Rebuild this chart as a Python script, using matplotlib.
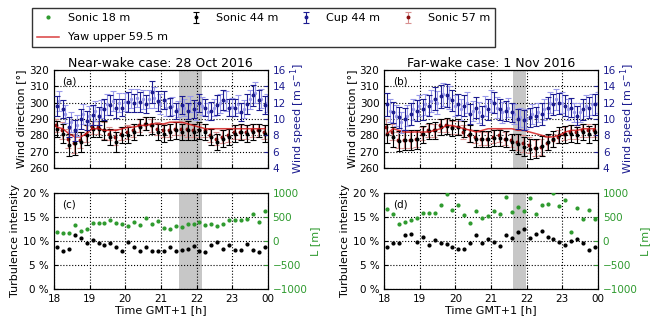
import numpy as np
import matplotlib
matplotlib.use('Agg')
import matplotlib.pyplot as plt

# ---- data (10-min means, minutes after 18:00) ----
t_min = np.arange(5, 360, 10)
t_hours = 18 + t_min / 60.0

# near-wake case, 28 Oct 2016
dir44_a = [284, 281, 274, 275, 276, 280, 284, 284, 283, 279, 276, 280, 280, 282, 285, 287, 286, 282,
           281, 282, 283, 282, 283, 282, 283, 282, 279, 276, 278, 279, 281, 282, 281, 282, 283, 281]
dir44_err_a = [5, 6, 7, 7, 6, 6, 5, 5, 6, 5, 6, 5, 5, 5, 5, 4, 5, 5,
               5, 5, 5, 5, 6, 5, 5, 5, 5, 5, 5, 5, 5, 5, 5, 5, 4, 5]
dir57_a = [286, 283, 278, 275, 277, 281, 285, 285, 283, 281, 279, 281, 282, 283, 286, 287, 286, 284,
           283, 283, 284, 284, 284, 283, 283, 283, 280, 278, 279, 280, 282, 282, 282, 283, 283, 282]
dir57_err_a = [4, 5, 6, 6, 5, 5, 4, 4, 5, 4, 5, 4, 4, 4, 4, 4, 4, 4,
               4, 4, 4, 4, 5, 4, 4, 4, 4, 4, 4, 4, 4, 4, 4, 4, 4, 4]
yaw_a = [285, 284, 281, 279, 279, 281, 284, 284, 283, 283, 283, 284, 285, 285, 286, 286, 287, 287,
         287, 288, 288, 288, 287, 286, 285, 284, 284, 284, 284, 284, 284, 284, 284, 284, 284, 284]
spd_cup_a = [11.6, 11.2, 9.0, 8.6, 10.0, 9.8, 10.5, 10.4, 11.2, 11.7, 11.3, 11.4, 12.1, 12.0, 12.1, 11.8, 13.3, 12.2,
             12.3, 11.5, 11.0, 11.7, 11.0, 11.2, 12.0, 11.4, 11.0, 11.7, 12.3, 11.4, 11.4, 10.8, 11.8, 12.9, 12.3, 11.7]
spd_cup_err_a = [1.2, 1.1, 1.2, 1.3, 1.2, 1.2, 1.2, 1.1, 1.3, 1.2, 1.2, 1.1, 1.2, 1.1, 1.2, 1.1, 1.3, 1.2,
                 1.1, 1.1, 1.0, 1.1, 1.0, 1.1, 1.1, 1.0, 1.1, 1.2, 1.2, 1.1, 1.1, 1.1, 1.2, 1.3, 1.2, 1.1]
spd_son_a = [12.2, 10.6, 9.6, 9.2, 10.6, 10.4, 11.0, 11.2, 11.8, 12.2, 12.0, 12.1, 12.5, 12.6, 12.4, 12.5, 12.6, 11.8,
             11.4, 11.6, 11.2, 11.4, 11.8, 11.0, 11.6, 10.9, 11.4, 11.9, 12.2, 11.5, 11.8, 11.2, 12.4, 13.2, 12.5, 12.0]
ti_a = [8.7, 8.0, 8.4, 11.2, 10.7, 9.5, 10.2, 9.6, 9.1, 9.6, 8.7, 8.0, 9.8, 8.7, 7.9, 8.7, 8.0, 8.0,
        7.9, 8.7, 7.8, 8.1, 8.4, 8.9, 7.9, 7.6, 9.1, 9.8, 8.4, 9.1, 8.1, 8.1, 9.3, 8.2, 7.6, 8.7]
L_a = [190, 170, 155, 330, 210, 240, 375, 375, 375, 445, 375, 360, 305, 395, 330, 485, 360, 415,
       260, 240, 305, 280, 350, 350, 395, 330, 360, 305, 350, 430, 445, 445, 465, 555, 395, 625]
shade_a = (21.5, 22.15)

# far-wake case, 1 Nov 2016
dir44_b = [281, 279, 276.5, 277, 277, 277.5, 280.5, 282.5, 283, 285, 285.5, 284.5, 285, 284, 281, 278, 277.5, 277.5,
           278.5, 278.5, 277.5, 276, 274.5, 273, 271.5, 272, 273.5, 276, 277.5, 280, 280.5, 281, 280, 282, 280.5, 282]
dir44_err_b = [6, 6, 6, 6, 6, 6, 5, 5, 5, 5, 5, 5, 5, 5, 5, 5, 5, 5,
               5, 5, 5, 5, 6, 6, 6, 6, 6, 5, 5, 5, 5, 5, 5, 5, 5, 5]
dir57_b = [285, 282, 277, 277, 277, 278, 281, 283, 283, 286, 286, 285, 285, 282, 280, 279, 278, 278,
           279, 280, 278, 277, 276, 275, 274, 272, 273, 275, 277, 279, 281, 282, 282, 283, 283, 283]
dir57_err_b = [5, 5, 5, 5, 5, 5, 4, 4, 4, 4, 4, 4, 4, 4, 4, 4, 4, 4,
               4, 4, 4, 4, 5, 5, 5, 5, 5, 4, 4, 4, 4, 4, 4, 4, 4, 4]
yaw_b = [281, 284, 283, 282, 282, 282, 282, 282, 283, 284, 286, 286, 285, 284, 283, 282, 283, 284,
         284, 284, 284, 284, 283, 283, 282, 281, 280, 279, 279, 280, 282, 283, 283, 284, 284, 284]
spd_cup_b = [11.8, 10.8, 10.2, 10.0, 10.6, 11.0, 11.2, 11.6, 12.5, 12.8, 12.9, 12.3, 11.8, 11.6, 10.6, 11.4, 10.4, 11.2,
             12.0, 11.2, 11.0, 10.8, 10.0, 9.9, 10.2, 10.3, 10.6, 11.4, 11.8, 11.9, 11.6, 11.4, 10.4, 11.2, 11.4, 11.8]
spd_cup_err_b = [1.4, 1.3, 1.3, 1.3, 1.3, 1.3, 1.3, 1.3, 1.4, 1.4, 1.4, 1.3, 1.3, 1.3, 1.2, 1.3, 1.2, 1.3,
                 1.3, 1.3, 1.2, 1.2, 1.2, 1.2, 1.2, 1.2, 1.3, 1.3, 1.3, 1.3, 1.3, 1.2, 1.2, 1.3, 1.3, 1.3]
spd_son_b = [11.0, 10.4, 9.6, 10.4, 11.2, 11.6, 11.8, 12.2, 12.0, 13.0, 12.6, 11.6, 11.2, 12.0, 11.0, 10.8, 11.6, 12.2,
             11.4, 10.8, 11.4, 10.6, 10.2, 10.0, 10.6, 10.8, 11.2, 12.0, 12.4, 12.0, 11.2, 10.8, 10.8, 11.6, 11.8, 12.0]
ti_b = [8.8, 9.6, 9.6, 11.2, 11.4, 9.8, 10.9, 9.1, 10.2, 9.6, 9.3, 8.7, 8.4, 8.4, 9.5, 11.2, 9.5, 10.3,
        9.8, 8.9, 11.2, 10.7, 11.9, 12.4, 10.7, 11.4, 12.1, 10.9, 10.3, 9.8, 9.1, 10.0, 10.3, 9.5, 8.2, 8.8]
L_b = [672, 555, 350, 385, 430, 485, 585, 585, 585, 740, 985, 650, 740, 535, 375, 625, 485, 515,
       625, 570, 915, 605, 710, 625, 900, 555, 740, 775, 990, 720, 845, 190, 695, 465, 640, 460]
shade_b = (21.62, 21.98)

hour_ticks = [18, 19, 20, 21, 22, 23, 24]
hour_labels = ['18', '19', '20', '21', '22', '23', '00']

C_BLACK = 'k'
C_RED = '#8b1010'
C_RED_BAR = '#d89090'
C_NAVY = '#1c1c90'
C_LBLUE = '#9a9aea'
C_GREEN = '#2e9a2e'
FS = 7.5

plt.rcParams['font.family'] = 'DejaVu Sans'


def style_ax(ax):
    ax.tick_params(direction='in', length=3, labelsize=FS)
    ax.grid(True, color='k', linestyle=':', linewidth=0.8)
    ax.set_xlim(18, 24)
    ax.set_xticks(hour_ticks)


def top_panel(ax, d44, e44, d57, e57, yaw, cup, ecup, son, shade, title, tag):
    ax.axvspan(shade[0], shade[1], color='0.78', lw=0, zorder=0)
    ax.errorbar(t_hours, d44, yerr=e44, fmt='o', ms=1.8, color=C_BLACK, ecolor=C_BLACK,
                elinewidth=0.8, capsize=2, capthick=0.8, label='Sonic 44 m', zorder=4)
    ax.errorbar(t_hours - 0.025, d57, yerr=e57, fmt='o', ms=1.8, color=C_RED, ecolor=C_RED_BAR,
                elinewidth=0.8, capsize=2, capthick=0.8, label='Sonic 57 m', zorder=3)
    ax.plot(t_hours, yaw, color='#d01010', lw=1.1, label='Yaw upper 59.5 m', zorder=5, alpha=0.8)
    ax.set_ylim(260, 320)
    ax.set_yticks(range(260, 321, 10))
    style_ax(ax)
    ax.set_xticklabels([])
    ax.set_ylabel('Wind direction [°]', fontsize=FS + 0.5, labelpad=2)
    ax.set_title(title, fontsize=9, pad=2)
    ax.text(0.04, 0.93, tag, transform=ax.transAxes, fontsize=FS, va='top')
    ax2 = ax.twinx()
    ax2.errorbar(t_hours + 0.07, son, yerr=ecup, fmt='o', ms=1.4, color=C_LBLUE, ecolor=C_LBLUE,
                 elinewidth=0.8, capsize=2, capthick=0.8, zorder=2)
    ax2.errorbar(t_hours, cup, yerr=ecup, fmt='o', ms=1.8, color=C_NAVY, ecolor=C_NAVY,
                 elinewidth=0.8, capsize=2, capthick=0.8, label='Cup 44 m', zorder=3)
    ax2.set_ylim(4, 16)
    ax2.set_yticks(range(4, 17, 2))
    ax2.tick_params(direction='in', length=3, labelsize=FS, colors=C_NAVY)
    ax2.set_ylabel('Wind speed [m s$^{-1}$]', fontsize=FS + 0.5, color=C_NAVY, labelpad=2)
    return ax2


def bottom_panel(ax, ti, L, shade, tag):
    ax.axvspan(shade[0], shade[1], color='0.78', lw=0, zorder=0)
    ax.plot(t_hours, ti, 'o', ms=2, color=C_BLACK, zorder=3)
    ax.set_ylim(0, 20)
    ax.set_yticks([0, 5, 10, 15, 20])
    ax.set_yticklabels(['0 %', '5 %', '10 %', '15 %', '20 %'])
    style_ax(ax)
    ax.set_xticklabels(hour_labels)
    ax.set_xlabel('Time GMT+1 [h]', fontsize=FS + 0.5, labelpad=1)
    ax.set_ylabel('Turbulence intensity', fontsize=FS + 0.5, labelpad=2)
    ax.text(0.04, 0.93, tag, transform=ax.transAxes, fontsize=FS, va='top')
    ax2 = ax.twinx()
    ax2.plot(t_hours, L, 'o', ms=2, color=C_GREEN, label='Sonic 18 m', zorder=3)
    ax2.set_ylim(-1000, 1000)
    ax2.set_yticks([-1000, -500, 0, 500, 1000])
    ax2.tick_params(direction='in', length=3, labelsize=FS, colors=C_GREEN)
    ax2.set_ylabel('L [m]', fontsize=FS + 0.5, color=C_GREEN, labelpad=2)
    return ax2


fig = plt.figure(figsize=(6.5, 3.21), dpi=100)
ax_a = fig.add_axes([0.083, 0.477, 0.329, 0.305])
ax_b = fig.add_axes([0.591, 0.477, 0.329, 0.305])
ax_c = fig.add_axes([0.083, 0.100, 0.329, 0.299])
ax_d = fig.add_axes([0.591, 0.100, 0.329, 0.299])

ax_a2 = top_panel(ax_a, dir44_a, dir44_err_a, dir57_a, dir57_err_a, yaw_a, spd_cup_a, spd_cup_err_a,
                  spd_son_a, shade_a, 'Near-wake case: 28 Oct 2016', '(a)')
top_panel(ax_b, dir44_b, dir44_err_b, dir57_b, dir57_err_b, yaw_b, spd_cup_b, spd_cup_err_b,
          spd_son_b, shade_b, 'Far-wake case: 1 Nov 2016', '(b)')
ax_c2 = bottom_panel(ax_c, ti_a, L_a, shade_a, '(c)')
bottom_panel(ax_d, ti_b, L_b, shade_b, '(d)')

# legend, ordered so that the yaw line falls in the 2nd row
h1, l1 = ax_a.get_legend_handles_labels()
h2, l2 = ax_a2.get_legend_handles_labels()
h3, l3 = ax_c2.get_legend_handles_labels()
hd = dict(zip(l1 + l2 + l3, h1 + h2 + h3))
order = ['Sonic 18 m', 'Yaw upper 59.5 m', 'Sonic 44 m', 'Cup 44 m', 'Sonic 57 m']
fig.legend([hd[k] for k in order], order, ncol=4, mode='expand',
           bbox_to_anchor=(0.049, 0.838, 0.713, 0.137), loc='upper left',
           fontsize=8, frameon=True, fancybox=False, edgecolor='k',
           handlelength=2.0, borderaxespad=0, borderpad=0.45, labelspacing=0.85,
           markerscale=1.0)

fig.savefig('out.png', dpi=100)
